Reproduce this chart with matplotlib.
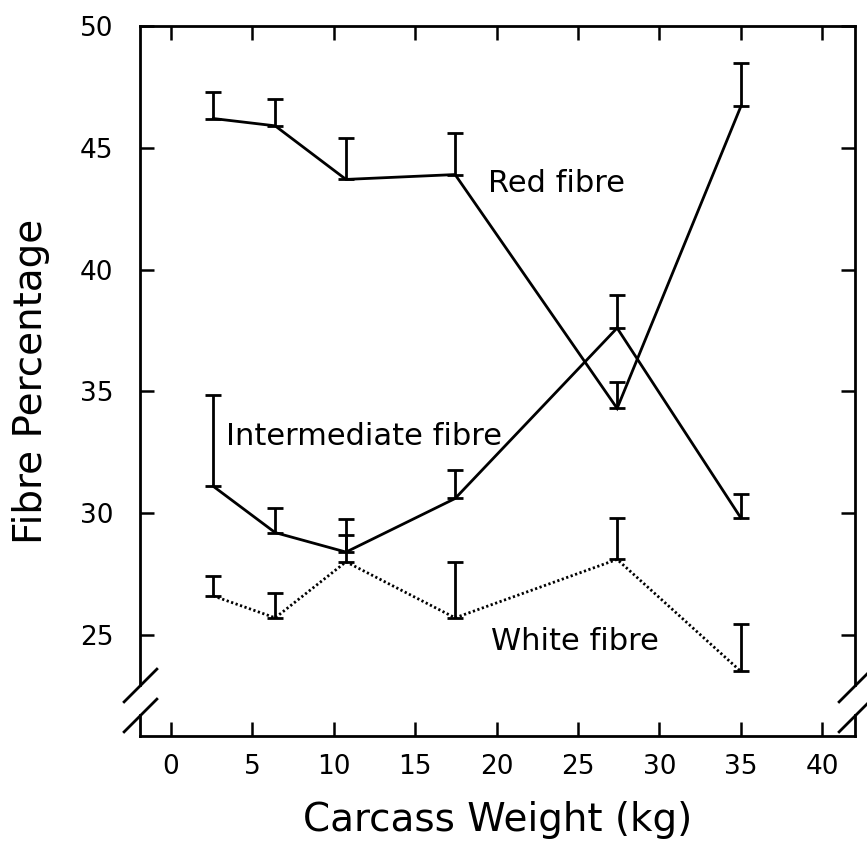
import matplotlib
matplotlib.use("Agg")
import matplotlib.pyplot as plt

# Carcass weight groups (kg)
weights = [2.6, 6.4, 10.75, 17.45, 27.4, 35.0]

# Mean fibre percentages and upper standard errors
red_mean = [46.2, 45.9, 43.7, 43.9, 34.3, 46.7]
red_err = [1.1, 1.1, 1.7, 1.7, 1.1, 1.8]

inter_mean = [31.1, 29.2, 28.4, 30.6, 37.6, 29.8]
inter_err = [3.75, 1.0, 1.35, 1.15, 1.35, 1.0]

white_mean = [26.6, 25.7, 28.0, 25.7, 28.1, 23.5]
white_err = [0.8, 1.0, 1.1, 2.3, 1.7, 1.95]

x_ticks = [0, 5, 10, 15, 20, 25, 30, 35, 40]
y_ticks = [25, 30, 35, 40, 45, 50]

plt.rcParams["font.family"] = "DejaVu Sans"

fig = plt.figure(figsize=(8.67, 8.63), dpi=100)
ax = fig.add_axes([0.1615, 0.1472, 0.8245, 0.8227])

XMIN, XMAX = -1.9, 42.0
YMIN, YMAX = 20.85, 50.0
ax.set_xlim(XMIN, XMAX)
ax.set_ylim(YMIN, YMAX)

lw = 2.0
zeros = [0] * len(weights)

ax.plot(weights, red_mean, color="black", lw=lw, solid_joinstyle="miter")
ax.errorbar(weights, red_mean, yerr=[zeros, red_err], fmt="none",
            ecolor="black", elinewidth=lw, capsize=6, capthick=lw)

ax.plot(weights, inter_mean, color="black", lw=lw, solid_joinstyle="miter")
ax.errorbar(weights, inter_mean, yerr=[zeros, inter_err], fmt="none",
            ecolor="black", elinewidth=lw, capsize=6, capthick=lw)

ax.plot(weights, white_mean, color="black", lw=2.0, linestyle=(0, (0.8, 0.9)))
ax.errorbar(weights, white_mean, yerr=[zeros, white_err], fmt="none",
            ecolor="black", elinewidth=lw, capsize=6, capthick=lw)

# Series labels
lab_kw = dict(fontsize=22, color="black", ha="left", va="baseline")
ax.text(19.45, 43.2, "Red fibre", **lab_kw)
ax.text(3.4, 32.8, "Intermediate fibre", **lab_kw)
ax.text(19.65, 24.38, "White fibre", **lab_kw)

# Axes frame with broken vertical sides
frame_lw = 2.0
for side in ("left", "right"):
    ax.spines[side].set_visible(False)
for side in ("top", "bottom"):
    ax.spines[side].set_linewidth(frame_lw)

brk_hi, brk_lo = 22.95, 21.70
ytr = ax.get_yaxis_transform()
for xa in (0, 1):
    ax.plot([xa, xa], [brk_hi, YMAX], color="black", lw=frame_lw,
            transform=ytr, clip_on=False, solid_capstyle="projecting")
    ax.plot([xa, xa], [YMIN, brk_lo], color="black", lw=frame_lw,
            transform=ytr, clip_on=False, solid_capstyle="projecting")
    ax.plot([xa, xa], [brk_hi, brk_lo], linestyle="none",
            marker=[(-1, -1), (1, 1)], markersize=25, mew=frame_lw,
            color="black", transform=ytr, clip_on=False)

ax.set_xticks(x_ticks)
ax.set_yticks(y_ticks)
ax.tick_params(axis="both", which="major", direction="in", length=10,
               width=1.8, top=True, right=True, labelsize=19)
ax.tick_params(axis="x", pad=13)
ax.tick_params(axis="y", pad=19)

ax.set_xlabel("Carcass Weight (kg)", fontsize=28, labelpad=15)
ax.set_ylabel("Fibre Percentage", fontsize=28, labelpad=22)

fig.savefig("out.png", dpi=100, facecolor="white")
